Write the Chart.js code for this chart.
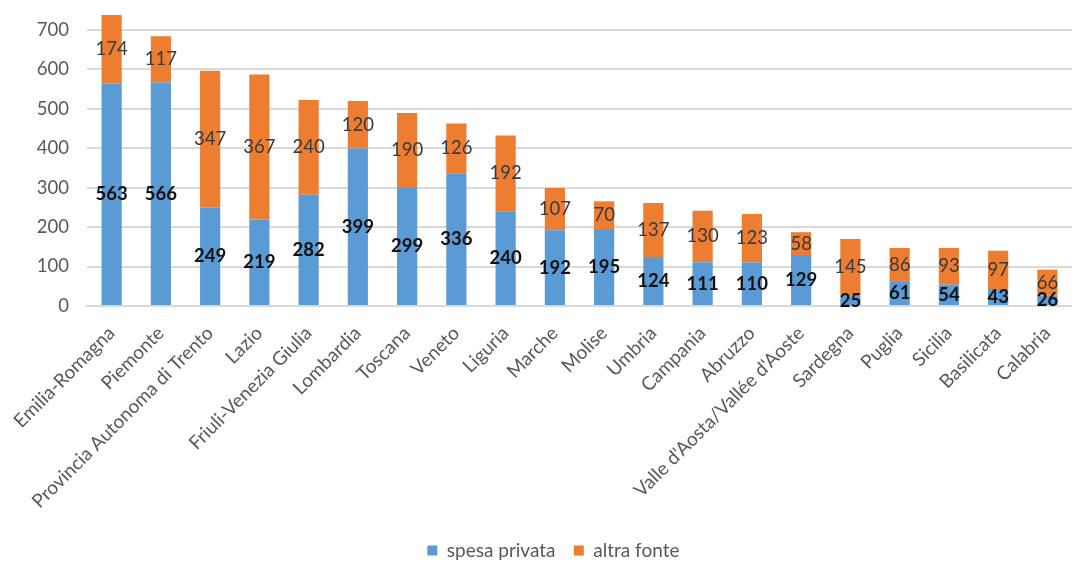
<!DOCTYPE html>
<html>
<head>
<meta charset="utf-8">
<script src="https://cdn.jsdelivr.net/npm/chart.js@4"></script>
<style>
  html, body { margin: 0; padding: 0; background: #fff; }
  #wrap { width: 1072px; height: 562px; }
</style>
</head>
<body>
<div id="wrap"><canvas id="chart"></canvas></div>
<script>
// Regions, sorted by total
const regions = [
    'Emilia-Romagna', 'Piemonte', 'Provincia Autonoma di Trento', 'Lazio',
    'Friuli-Venezia Giulia', 'Lombardia', 'Toscana', 'Veneto', 'Liguria',
    'Marche', 'Molise', 'Umbria', 'Campania', 'Abruzzo',
    "Valle d'Aosta/Vallée d'Aoste", 'Sardegna', 'Puglia', 'Sicilia',
    'Basilicata', 'Calabria'
];
const spesaPrivata = [563, 566, 249, 219, 282, 399, 299, 336, 240, 192, 195, 124, 111, 110, 129, 25, 61, 54, 43, 26];
const altraFonte = [174, 117, 347, 367, 240, 120, 190, 126, 192, 107, 70, 137, 130, 123, 58, 145, 86, 93, 97, 66];
const yTicks = [0, 100, 200, 300, 400, 500, 600, 700];

const FONT = 'Lato, "Open Sans", sans-serif';

// Value labels centred inside each stacked segment
const segmentLabels = {
    id: 'segmentLabels',
    afterDatasetsDraw(chart) {
        const ctx = chart.ctx;
        ctx.save();
        ctx.textAlign = 'center';
        ctx.textBaseline = 'middle';
        chart.data.datasets.forEach((ds, i) => {
            const meta = chart.getDatasetMeta(i);
            ctx.font = (i === 0 ? 'bold ' : '') + '18.5px ' + FONT;
            ctx.fillStyle = i === 0 ? '#111' : '#3a3a3a';
            meta.data.forEach((bar, j) => {
                const p = bar.getProps(['x', 'y', 'base'], true);
                ctx.fillText(ds.data[j], p.x, (p.y + p.base) / 2);
            });
        });
        ctx.restore();
    }
};

new Chart(document.getElementById('chart'), {
    type: 'bar',
    data: {
        labels: regions,
        datasets: [
            { label: 'spesa privata', data: spesaPrivata, backgroundColor: '#5b9bd5' },
            { label: 'altra fonte', data: altraFonte, backgroundColor: '#ed7d31' }
        ]
    },
    options: {
        responsive: true,
        maintainAspectRatio: false,
        animation: false,
        layout: { padding: { top: 0, right: 0, bottom: -8, left: 0 } },
        datasets: { bar: { barPercentage: 0.41, categoryPercentage: 1 } },
        plugins: {
            tooltip: { enabled: false },
            legend: {
                position: 'bottom',
                fullSize: false,
                labels: {
                    boxWidth: 10,
                    boxHeight: 10,
                    padding: 4,
                    color: '#595959',
                    font: { family: FONT, size: 19 },
                    generateLabels(chart) {
                        // wider gap between the two entries, and nudge the pair left
                        const items = Chart.defaults.plugins.legend.labels.generateLabels(chart);
                        items[0].text += '\u2003';
                        items[items.length - 1].text += '\u2003\u2003\u2003\u2002';
                        return items;
                    }
                }
            }
        },
        scales: {
            x: {
                stacked: true,
                grid: { display: false },
                border: { color: '#d9d9d9', width: 2 },
                ticks: {
                    color: '#595959',
                    font: { family: FONT, size: 19 },
                    maxRotation: 45,
                    minRotation: 45,
                    autoSkip: false,
                    padding: 8
                },
                afterFit(scale) { scale.height = 231; }
            },
            y: {
                stacked: true,
                min: 0,
                max: 775,
                afterBuildTicks(scale) {
                    scale.ticks = yTicks.map(v => ({ value: v }));
                },
                grid: { color: '#d9d9d9', lineWidth: 2, drawTicks: false },
                border: { display: false },
                ticks: {
                    color: '#595959',
                    font: { family: FONT, size: 18.5 },
                    padding: 18
                },
                afterFit(scale) {
                    scale.width = 87;
                    scale.paddingTop = 0;
                    scale.paddingBottom = 0;
                }
            }
        }
    },
    plugins: [segmentLabels]
});
</script>
</body>
</html>
